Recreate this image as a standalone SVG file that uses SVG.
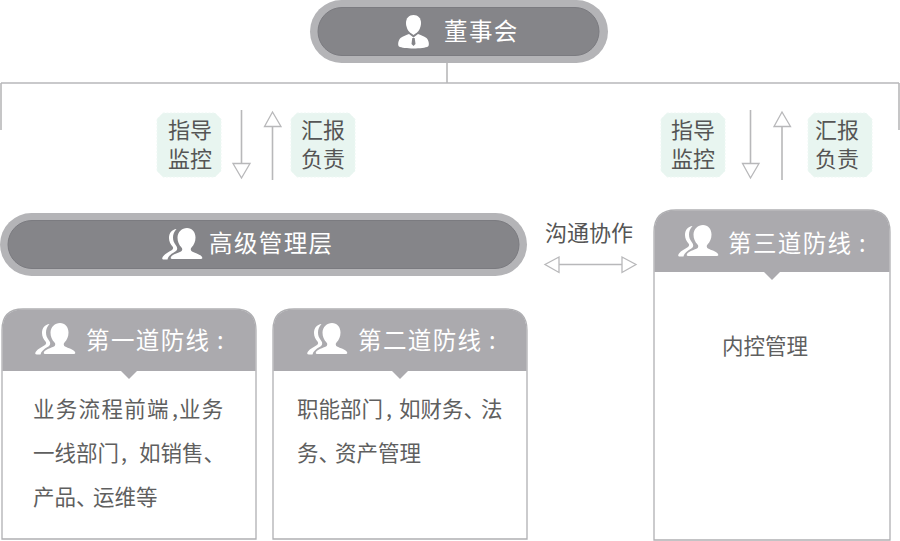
<svg xmlns="http://www.w3.org/2000/svg" width="900" height="541" viewBox="0 0 900 541">
<style>
text{font-family:"Noto Sans CJK SC","Liberation Sans",sans-serif}
.w{fill:#fff;font-size:23.500px;letter-spacing:1.400px}
.d{fill:#5f5f5f;font-size:21.500px}
.b{fill:#555;font-size:22px}
.p{letter-spacing:-11px}
.line{stroke:#b8b8ba;stroke-width:1.600;fill:none}
.arrow{stroke:#b8b8ba;stroke-width:1.300;fill:#fff}
.tag{fill:#e8f5f0;stroke:#eef8f4;stroke-width:1;stroke-dasharray:2 1.500}
.pill-o{fill:#b4b4b7}
.pill-i{fill:#858589;stroke:#7b7b80;stroke-width:1}
.card{fill:#fff;stroke:#b0b0b3;stroke-width:1.300}
.head{fill:#abaaae}
</style>
<defs>
<g id="people" fill="#fff">
<path d="M25 0c5 0 8.500 4 8.500 9.500 0 4-1.500 7.500-4 10-1.200 1.300-1 3 .5 4 3 1.600 8.500 2.800 10 5.500.8 1.500 0 2-2 2H11c-2 0-2.800-.6-2-2 1.500-2.700 7-4 10-5.500 1.500-1 1.700-2.700.5-4-2.500-2.500-4-6-4-10C15.500 4 20 0 25 0z"/>
<path d="M14.500 1C10 1.500 7 5 7 10c0 3.500 1.500 6.500 3.500 8.500 1 1.300.8 2.500-.5 3.500-3 2-7 3.500-9 6.500-1.300 2-1 3 1 3h3.500c.5-3 3.500-5.500 7-7.500 3-1.500 3.500-4 1.500-6.500-2-2.500-3-5-3-8 0-3 1.200-6 3.500-8.500z"/>
</g>
</defs>
<g id="connectors">
<path class="line" d="M447 60V83M1 83H899M1 83V130M899 83V130"/>
<path class="line" d="M241.500 110V166M272.500 180V126M750.500 110V166M782 180V126M557 264.500H624"/>
<path class="arrow" d="M233 163.500H250L241.500 178Z"/>
<path class="arrow" d="M264.500 126.500H281L272.500 112Z"/>
<path class="arrow" d="M742.500 163.500H759L750.500 178Z"/>
<path class="arrow" d="M774 126.500H790.500L782 112Z"/>
<path class="arrow" d="M559 257V272.500L545 264.500Z"/>
<path class="arrow" d="M622 257V272.500L636 264.500Z"/>
</g>
<g id="board">
<rect class="pill-o" x="310" y="0" width="298" height="63" rx="31.500"/>
<rect class="pill-i" x="318" y="7.500" width="281" height="48" rx="24"/>
<path fill="#fff" d="M413.500 15c4.500 0 7.500 3 7.500 8 0 4-2 8-4 9.500l-3.500 2.500-3.500-2.500c-2-1.500-4-5.500-4-9.500 0-5 3-8 7.500-8z"/>
<path fill="#fff" d="M399 46.500c-1.500-1-1-6 1.500-8.500 2.500-2 6-3 8.500-4l4.500 3.500 4.500-3.500c2.500 1 6 2 8.500 4 2.500 2.500 3 7.500 1.500 8.500-2 1.300-8.500 2-14.500 2s-12.500-.7-14.500-2z"/>
<path fill="#858589" d="M412.300 38h2.400l.8 6-2 2-2-2z"/>
<text class="w" x="444" y="40">董事会</text>
</g>
<g id="tag-guide-left">
<path class="tag" d="M163 113H215L221 119V171L215 177H163L157 171V119Z"/>
<text class="b" x="168" y="138">指导</text>
<text class="b" x="168" y="167">监控</text>
</g>
<g id="tag-report-left">
<path class="tag" d="M297 113H349L355 119V171L349 177H297L291 171V119Z"/>
<text class="b" x="301" y="138">汇报</text>
<text class="b" x="301" y="167">负责</text>
</g>
<g id="tag-guide-right">
<path class="tag" d="M667 113H719L725 119V171L719 177H667L661 171V119Z"/>
<text class="b" x="671" y="138">指导</text>
<text class="b" x="671" y="167">监控</text>
</g>
<g id="tag-report-right">
<path class="tag" d="M814 113H866L872 119V171L866 177H814L808 171V119Z"/>
<text class="b" x="815" y="138">汇报</text>
<text class="b" x="815" y="167">负责</text>
</g>
<g id="senior-management">
<rect class="pill-o" x="0" y="213" width="527" height="63" rx="31.500"/>
<rect class="pill-i" x="8" y="220.500" width="511" height="48" rx="24"/>
<use href="#people" transform="translate(162 228)"/>
<text class="w" x="209" y="252">高级管理层</text>
</g>
<g id="collaboration">
<text class="b" x="545" y="241">沟通协作</text>
</g>
<g id="line-1">
<path class="card" d="M2 539V330Q2 309 23 309H235Q256 309 256 330V539Z"/>
<path class="head" d="M2.500 371V330Q2.500 309.500 23 309.500H235Q255.500 309.500 255.500 330V371H137L129 379 121 371Z"/>
<use href="#people" transform="translate(35 323)"/>
<text class="w" x="86" y="349">第一道防线<tspan x="217">:</tspan></text>
<text class="d" x="33" y="417" style="letter-spacing:1.300px">业务流程前端<tspan x="172">,</tspan><tspan x="179">业务</tspan></text>
<text class="d" x="33" y="461">一线部门<tspan x="121">, </tspan><tspan x="139">如销售、</tspan></text>
<text class="d" x="33" y="505">产品<tspan class="p">、</tspan><tspan x="93">运维等</tspan></text>
</g>
<g id="line-2">
<path class="card" d="M273 539V330Q273 309 294 309H506Q527 309 527 330V539Z"/>
<path class="head" d="M273.500 371V330Q273.500 309.500 294 309.500H506Q526.500 309.500 526.500 330V371H408L400 379 392 371Z"/>
<use href="#people" transform="translate(307 323)"/>
<text class="w" x="358" y="349">第二道防线<tspan x="489">:</tspan></text>
<text class="d" x="297" y="417">职能部门<tspan x="386">, </tspan><tspan x="399">如财务<tspan class="p">、</tspan></tspan><tspan x="481">法</tspan></text>
<text class="d" x="297" y="461">务<tspan class="p">、</tspan><tspan x="335">资产管理</tspan></text>
</g>
<g id="line-3">
<path class="card" d="M654 540V232Q654 210 676 210H868Q890 210 890 232V540Z"/>
<path class="head" d="M654.500 272V232Q654.500 210.500 676 210.500H868Q889.500 210.500 889.500 232V272H780L772 280 764 272Z"/>
<use href="#people" transform="translate(678 225)"/>
<text class="w" x="728" y="252">第三道防线<tspan x="859">:</tspan></text>
<text class="d" x="722" y="354">内控管理</text>
</g>
</svg>
